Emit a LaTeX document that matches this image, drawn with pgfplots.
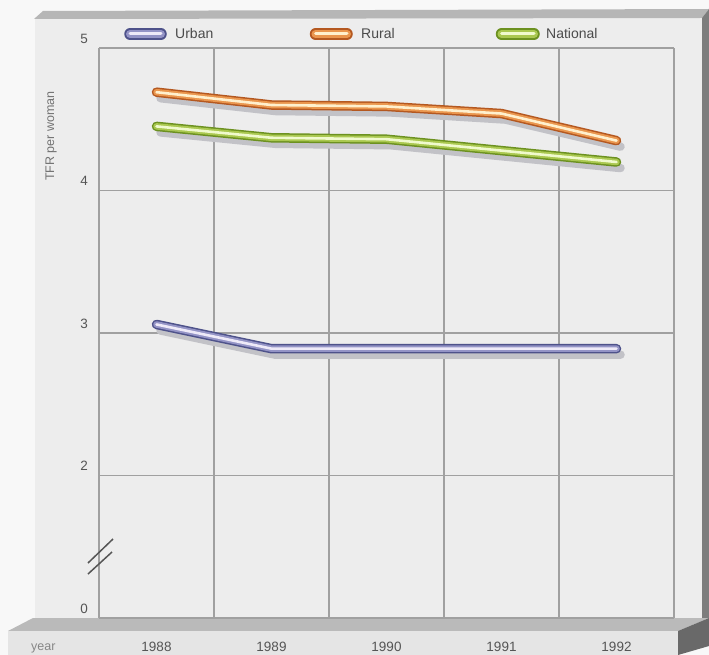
\documentclass[border=0pt]{standalone}
\usepackage{pgfplots}
\pgfplotsset{compat=1.18}
\usepackage{fontspec}
\setmainfont{Liberation Sans}
\definecolor{bgout}{RGB}{248,248,248}
\definecolor{face}{RGB}{237,237,237}
\definecolor{bevel}{RGB}{182,182,182}
\definecolor{sidedark}{RGB}{125,125,125}
\definecolor{shelf}{RGB}{186,186,186}
\definecolor{strip}{RGB}{229,229,229}
\definecolor{shelfside}{RGB}{105,105,105}
\definecolor{gridgray}{RGB}{160,160,160}
\definecolor{tickgray}{RGB}{85,85,85}
\definecolor{labelgray}{RGB}{115,115,115}
\definecolor{yeargray}{RGB}{135,135,135}
\definecolor{legtext}{RGB}{75,75,75}
\definecolor{shadowc}{RGB}{194,194,199}
\definecolor{urbandark}{RGB}{78,82,138}
\definecolor{urbanmid}{RGB}{148,148,198}
\definecolor{urbanlight}{RGB}{238,234,248}
\definecolor{ruraldark}{RGB}{180,88,32}
\definecolor{ruralmid}{RGB}{234,150,78}
\definecolor{rurallight}{RGB}{255,240,205}
\definecolor{natdark}{RGB}{108,145,32}
\definecolor{natmid}{RGB}{170,200,80}
\definecolor{natlight}{RGB}{240,250,205}

\pgfplotstableread{
x y
0 3.06
1 2.89
2 2.89
3 2.89
4 2.89
}\urban
\pgfplotstableread{
x y
0 4.69
1 4.60
2 4.59
3 4.54
4 4.35
}\rural
\pgfplotstableread{
x y
0 4.45
1 4.37
2 4.36
3 4.28
4 4.20
}\national

\begin{document}
\begin{tikzpicture}[x=1pt,y=1pt]
\path[use as bounding box, fill=bgout] (0,0) rectangle (709,-655);
% board face
\fill[face] (35,-18) rectangle (702,-618);
% top bevel
\fill[bevel] (34,-19) -- (43,-11) -- (709,-9) -- (702,-18) -- cycle;
% right side
\fill[sidedark] (702,-18) -- (709,-9) -- (709,-618) -- (702,-618) -- cycle;
% shelf
\fill[shelf] (8,-631) -- (33,-618) -- (709,-618) -- (678,-631) -- cycle;
\fill[strip] (8,-631) rectangle (678,-655);
\fill[shelfside] (678,-631) -- (709,-618) -- (709,-646) -- (678,-655) -- cycle;

% legend
\foreach \xa/\xb/\dk/\md/\lt/\lab/\tx in {130/161/urbandark/urbanmid/urbanlight/Urban/175, 315.5/347/ruraldark/ruralmid/rurallight/Rural/361, 501.5/534/natdark/natmid/natlight/National/546}{
  \draw[line width=11.5pt, line cap=round, \dk] (\xa,-34) -- (\xb,-34);
  \draw[line width=8pt, line cap=round, \md] (\xa,-34) -- (\xb,-34);
  \draw[line width=3pt, line cap=round, \lt] (\xa,-34) -- (\xb,-34);
  \node[anchor=base west, inner sep=0pt, text=legtext, font=\fontsize{14}{16}\selectfont] at (\tx,-39) {\lab};
}
% y label
\node[rotate=90, anchor=center, inner sep=0pt, text=labelgray, font=\fontsize{12.5}{14}\selectfont] at (51,-136) {TFR per woman};
\node[anchor=base west, inner sep=0pt, text=yeargray, font=\fontsize{12.5}{14}\selectfont] at (31,-650) {year};

\begin{axis}[
  at={(99pt,-618pt)}, anchor=south west,
  scale only axis, width=575pt, height=570pt,
  xmin=-0.5, xmax=4.5, ymin=1, ymax=5,
  axis line style={draw=none},
  xtick={0,1,2,3,4}, xticklabels={1988,1989,1990,1991,1992},
  minor xtick={-0.5,0.5,1.5,2.5,3.5,4.5}, xminorgrids=true,
  ytick={1,2,3,4,5}, yticklabels={0,2,3,4,5}, ymajorgrids=true,
  major tick length=0pt, minor tick length=0pt,
  grid style={draw=gridgray, line width=1.4pt},
  minor grid style={draw=gridgray, line width=1.4pt},
  major grid style={draw=gridgray, line width=1.4pt},
  /pgf/number format/assume math mode=true,
  xticklabel style={font=\fontsize{13.5}{15}\selectfont, text=tickgray, anchor=base, inner sep=0pt, yshift=-33pt},
  yticklabel style={font=\fontsize{13.5}{15}\selectfont, text=tickgray, anchor=base east, inner sep=0pt, xshift=-11pt, yshift=5pt},
  clip=false,
  every axis plot/.append style={line join=round, line cap=round},
]
% shadows
\addplot[shadowc, line width=8.5pt, xshift=4pt, yshift=-6pt] table[x=x,y=y] {\urban};
\addplot[shadowc, line width=8.5pt, xshift=4pt, yshift=-6pt] table[x=x,y=y] {\rural};
\addplot[shadowc, line width=8.5pt, xshift=4pt, yshift=-6pt] table[x=x,y=y] {\national};
% urban
\addplot[urbandark, line width=9.5pt] table[x=x,y=y] {\urban};
\addplot[urbanmid, line width=6.5pt] table[x=x,y=y] {\urban};
\addplot[urbanlight, line width=2.6pt] table[x=x,y=y] {\urban};
% rural
\addplot[ruraldark, line width=9.5pt] table[x=x,y=y] {\rural};
\addplot[ruralmid, line width=6.5pt] table[x=x,y=y] {\rural};
\addplot[rurallight, line width=2.6pt] table[x=x,y=y] {\rural};
% national
\addplot[natdark, line width=9.5pt] table[x=x,y=y] {\national};
\addplot[natmid, line width=6.5pt] table[x=x,y=y] {\national};
\addplot[natlight, line width=2.6pt] table[x=x,y=y] {\national};
\end{axis}
% axis break
\draw[line width=1.5pt, tickgray] (88,-563) -- (113,-539);
\draw[line width=1.5pt, tickgray] (88,-574) -- (112,-552);
\end{tikzpicture}
\end{document}
